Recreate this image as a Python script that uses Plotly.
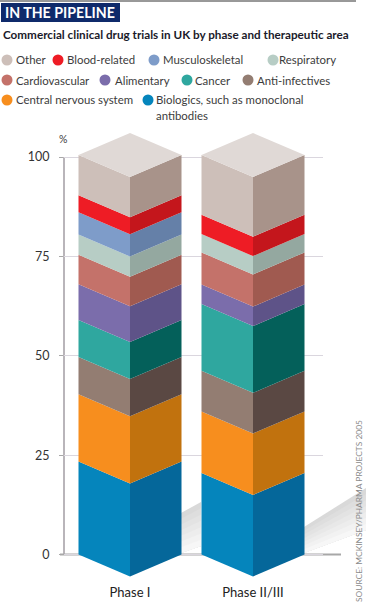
import plotly.graph_objects as go

W, H = 366, 603
categories = ["Phase I", "Phase II/III"]
series_names = ["Biologics, such as monoclonal antibodies", "Central nervous system", "Anti-infectives",
                "Cancer", "Alimentary", "Cardiovascular", "Respiratory", "Musculoskeletal",
                "Blood-related", "Other"]
phase_1 = [23.4, 16.9, 9.4, 9.3, 9.0, 7.4, 5.1, 5.6, 4.3, 10.1]
phase_2 = [20.5, 15.5, 10.2, 16.8, 4.9, 8.1, 4.6, 0.0, 4.9, 15.0]
y_ticks = [0, 25, 50, 75, 100]

front_colors = ["#0585BC", "#F78E1E", "#937D72", "#2FA79F", "#7B6DAB", "#C4726A", "#B7CDC5", "#7E9CC9", "#EE1C25", "#CDBFB9"]
side_colors = ["#05679A", "#C1720E", "#5A4843", "#04605A", "#5E5388", "#A05A50", "#94A8A0", "#6580A8", "#C4161C", "#A8938A"]
top_color = "#E0D9D6"

# plot frame in pixels
L, T, R_EDGE, B_EDGE = 64, 128, 323, 582
PW, PH = R_EDGE - L, B_EDGE - T
Y0_PX, PX_Y = 554.5, 3.975
PX_X = 123.0
x0 = 1 - (130 - L) / PX_X
x1 = x0 + PW / PX_X
y_lo = -(B_EDGE - Y0_PX) / PX_Y
y_hi = (Y0_PX - T) / PX_Y
HALF = 51.5 / PX_X
DEPTH = 22 / PX_Y

FONT = "Lato"
fig = go.Figure()


def face(xs, ys, color):
    fig.add_trace(go.Scatter(x=xs, y=ys, mode="lines", fill="toself", fillcolor=color,
                             line=dict(width=0, color=color), hoverinfo="skip", showlegend=False))


for pos, vals in enumerate([phase_1, phase_2], start=1):
    base = 0.0
    for v, fc, sc in zip(vals, front_colors, side_colors):
        top = base + v
        if v > 0:
            face([pos - HALF, pos, pos, pos - HALF, pos - HALF],
                 [base, base - DEPTH, top - DEPTH, top, base], fc)
            face([pos, pos + HALF, pos + HALF, pos, pos],
                 [base - DEPTH, base, top, top - DEPTH, base - DEPTH], sc)
        base = top
    face([pos - HALF, pos, pos + HALF, pos, pos - HALF],
         [base, base + DEPTH, base, base - DEPTH, base], top_color)

shapes, annos = [], []


def fx(x):
    return (x - L) / PW


def fy(y):
    return (B_EDGE - y) / PH


def text(x, y, s, size=12, color="#3c3c3c", anchor="left", bold=False, angle=0, font=FONT):
    annos.append(dict(xref="paper", yref="paper", x=fx(x), y=fy(y), text=("<b>%s</b>" % s) if bold else s,
                      showarrow=False, xanchor=anchor, yanchor="middle", textangle=angle,
                      font=dict(family=font, size=size, color=color), borderpad=0, borderwidth=0))


def poly(points, color):
    path = "M" + " L".join("%.4f,%.4f" % (fx(a), fy(b)) for a, b in points) + " Z"
    shapes.append(dict(type="path", xref="paper", yref="paper", path=path, fillcolor=color,
                       line=dict(width=0), layer="below"))


def rule(xa, ya, xb, yb, color, width):
    shapes.append(dict(type="line", xref="paper", yref="paper", x0=fx(xa), x1=fx(xb), y0=fy(ya), y1=fy(yb),
                       line=dict(color=color, width=width), layer="below"))


def shadow(xa, xb, ta, tb, ba, bb, bands=7):
    """Soft shadow: overlapping bands, darkest along the upper edge."""
    for i in range(bands):
        f = i / bands
        g = int(217 + (252 - 217) * f)
        col = "rgb(%d,%d,%d)" % (g, g, g)
        poly([(xa, ta + f * (ba - ta)), (xb, tb + f * (bb - tb)), (xb, bb), (xa, ba)], col)


shadow(181, 201, 513, 502, 553, 546)
shadow(304, 366, 527, 488, 553, 530)

# axis lines
rule(64, Y0_PX - 100 * PX_Y, 64, Y0_PX, "#B9B5BA", 2)
rule(60, Y0_PX, 341, Y0_PX, "#A8A8A8", 2)

# header
rule(0, 1, 356, 1, "#333333", 1)
shapes.append(dict(type="rect", xref="paper", yref="paper", x0=fx(1), x1=fx(120), y0=fy(3), y1=fy(22),
                   fillcolor="#0F2A6B", line=dict(width=0)))
text(5, 12.5, "IN THE PIPELINE", size=14.2, color="white", bold=True)
text(3, 34, "Commercial clinical drug trials in UK by phase and therapeutic area", size=11.7, color="#1a1a2a", bold=True)

# legend
legend_layout = [(7, 16, 60, 9), (58, 67, 60, 8), (154, 163, 60, 7), (273, 279, 60, 6), (7, 16, 80, 5),
                 (105, 115, 80, 4), (187, 195, 80, 3), (248, 257, 80, 2), (7, 16, 100, 1), (148, 156, 100, 0)]
LEG = 11.4
for mx, tx, ly, idx in legend_layout:
    shapes.append(dict(type="circle", xref="paper", yref="paper", x0=fx(mx - 5.5), x1=fx(mx + 5.5),
                       y0=fy(ly - 5.5), y1=fy(ly + 5.5), fillcolor=front_colors[idx], line=dict(width=0)))
    name = series_names[idx]
    if idx == 0:
        text(tx, ly, "Biologics, such as monoclonal", size=LEG)
        text(tx, ly + 15, "antibodies", size=LEG)
    else:
        text(tx, ly, name, size=LEG)

text(63, 139, "%", size=10.5, anchor="center")
text(359, 511, "SOURCE: MCKINSEY/PHARMA PROJECTS 2005", size=8.4, color="#8a8a8a", anchor="center", angle=-90)

fig.update_layout(
    width=W, height=H, autosize=False, margin=dict(l=L, r=W - R_EDGE, t=T, b=H - B_EDGE, pad=0),
    paper_bgcolor="rgba(0,0,0,0)", plot_bgcolor="rgba(0,0,0,0)", showlegend=False,
    shapes=shapes, annotations=annos,
    xaxis=dict(range=[x0, x1], tickmode="array", tickvals=[1, 2], ticktext=categories, showgrid=False,
               zeroline=False, showline=False, ticks="", ticklabelstandoff=1,
               tickfont=dict(family=FONT, size=13, color="#222222"), automargin=False),
    yaxis=dict(range=[y_lo, y_hi], tickmode="array", tickvals=y_ticks, ticktext=[str(t) for t in y_ticks],
               showgrid=True, gridcolor="#DAD6DE", gridwidth=1, zeroline=False, showline=False,
               ticks="outside", ticklen=4, tickcolor="#A8A8A8", tickwidth=1, ticklabelstandoff=7,
               tickfont=dict(family=FONT, size=12.5, color="#333333"), automargin=False),
)
fig.write_html("out.html", post_script="document.body.style.margin='0';", config=dict(displayModeBar=False))
